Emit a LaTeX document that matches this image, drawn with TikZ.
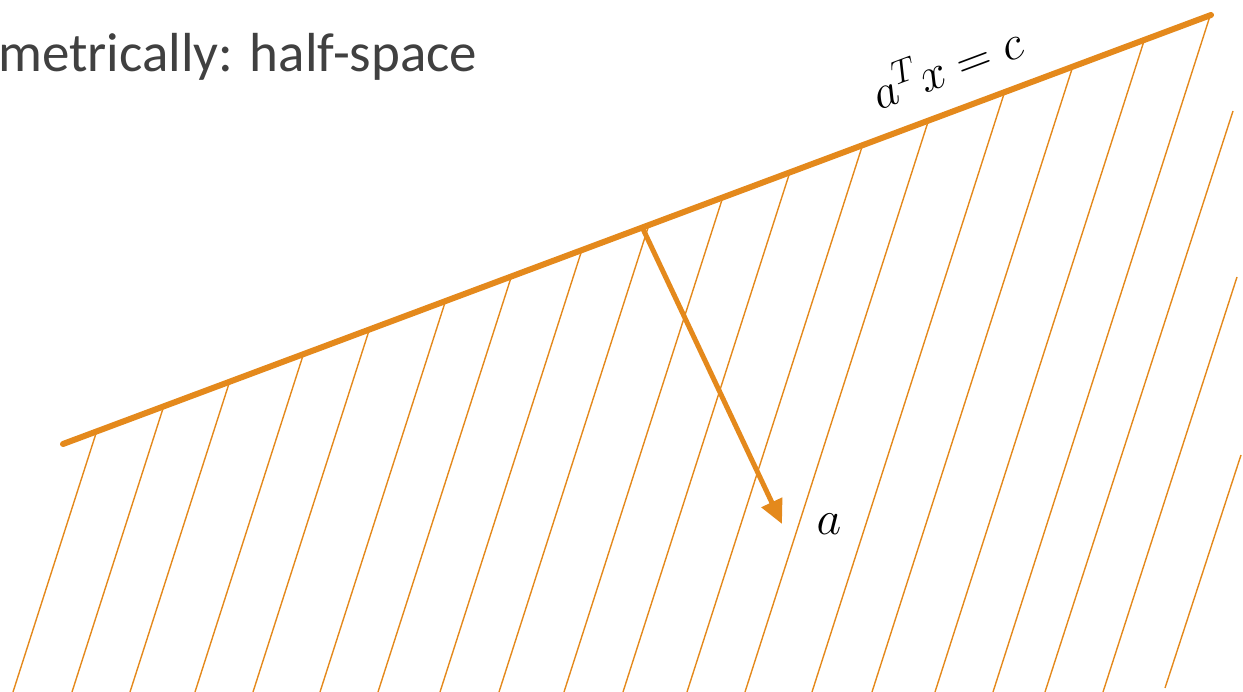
\RequirePackage{fix-cm}
\documentclass[tikz,border=0pt]{standalone}
\usepackage{fontspec}
\setmainfont{Carlito}
\usetikzlibrary{arrows.meta}
\definecolor{hsorange}{RGB}{228,137,28}
\definecolor{hsgray}{RGB}{64,64,64}
\tikzset{
  hatchline/.style={draw=hsorange, line width=1.4pt},
  boundary/.style={draw=hsorange, line width=6pt, line cap=round},
  normalvec/.style={draw=hsorange, line width=5pt, -{Triangle[length=24pt,width=22pt]}},
  mathlabel/.style={inner sep=0pt, font=\fontsize{48}{58}\selectfont},
  titletext/.style={inner sep=0pt, anchor=base west, text=hsgray, font=\fontsize{55}{66}\selectfont}
}
\begin{document}
\begin{tikzpicture}[x=1pt,y=-1pt]
\useasboundingbox (0,0) rectangle (1243,692);
% hatch lines below the boundary
\foreach \b in {13,72,130,195,253,320,378,440,499,564,623,687,745,812,872,935,993}{
  \pgfmathsetmacro\xt{(\b+72.05)/0.88}
  \pgfmathsetmacro\yt{444-0.3737*(\xt-63)}
  \draw[hatchline] (\b,692) -- (\xt,\yt);
}
\draw[hatchline] (1045,692) -- (1233,111);
\draw[hatchline] (1103,692) -- (1237,277);
\draw[hatchline] (1165,688) -- (1241,455);
% boundary line
\coordinate (L1) at (63,444);
\coordinate (L2) at (1211,15);
\draw[boundary] (L1) -- (L2);
% normal vector
\coordinate (foot) at (643,229);
\coordinate (tip) at (782,524);
\draw[normalvec] (foot) -- (tip);
\node[mathlabel] (alabel) at (829,524) {$a$};
\node[mathlabel, rotate=20.5] (eqlabel) at (946,64) {$a^T x = c$};
% title text
\node[titletext] (title) at (-2,72) {metrically: half-space};
\end{tikzpicture}
\end{document}
